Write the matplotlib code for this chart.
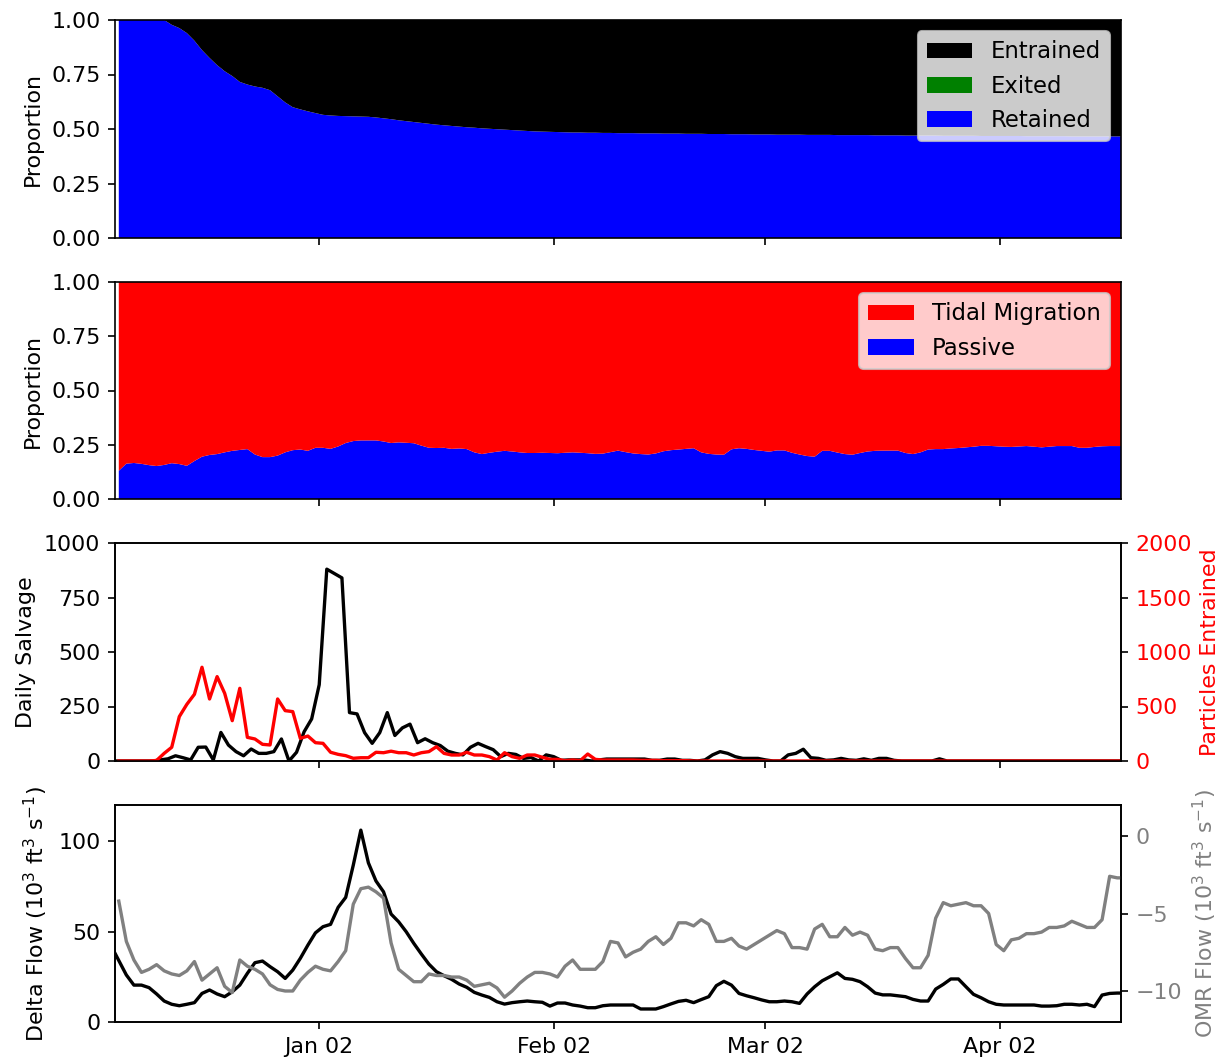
import numpy as np
import pandas as pd
import matplotlib
matplotlib.use("Agg")
import matplotlib.pyplot as plt
import matplotlib.dates as mdates

plt.rcParams['font.family'] = ['DejaVu Sans']
plt.rcParams['font.size'] = 10.6

# ---------------------------------------------------------------- data
# Daily particle fate proportions (values at midday, from 2016-12-06)
retained = [
    1.0, 1.0, 1.0, 1.0, 1.0, 1.0, 1.0, 0.978, 0.963, 0.94,
    0.905, 0.862, 0.826, 0.793, 0.765, 0.743, 0.716, 0.704, 0.695, 0.689,
    0.678, 0.650, 0.622, 0.600, 0.590, 0.581, 0.573, 0.565, 0.562, 0.560,
    0.559, 0.558, 0.557, 0.556, 0.553, 0.549, 0.545, 0.540, 0.536, 0.532,
    0.528, 0.524, 0.520, 0.517, 0.514, 0.511, 0.508, 0.506, 0.503, 0.501,
    0.499, 0.497, 0.495, 0.493, 0.491, 0.489, 0.488, 0.487, 0.486, 0.485,
    0.484, 0.484, 0.483, 0.483, 0.482, 0.482, 0.481, 0.481, 0.481, 0.480,
    0.480, 0.480, 0.479, 0.479, 0.479, 0.478, 0.478, 0.478, 0.477, 0.477,
    0.477, 0.476, 0.476, 0.476, 0.475, 0.475, 0.475, 0.474, 0.474, 0.474,
    0.474, 0.473, 0.473, 0.473, 0.473, 0.472, 0.472, 0.472, 0.472, 0.472,
    0.471, 0.471, 0.471, 0.471, 0.470, 0.470, 0.470, 0.470, 0.470, 0.469,
    0.469, 0.469, 0.469, 0.469, 0.468, 0.468, 0.468, 0.468, 0.468, 0.468,
    0.467, 0.467, 0.467, 0.467, 0.467, 0.467, 0.466, 0.466, 0.466, 0.466,
    0.466, 0.466, 0.466, 0.466,
]
exited = [0.0] * len(retained)

# Proportion of particles behaving passively (rest use tidal migration)
passive = [
    0.130, 0.163, 0.166, 0.162, 0.156, 0.152, 0.157, 0.165, 0.161, 0.153,
    0.175, 0.195, 0.203, 0.207, 0.215, 0.222, 0.226, 0.230, 0.205, 0.193,
    0.193, 0.200, 0.215, 0.225, 0.228, 0.222, 0.236, 0.236, 0.231, 0.242,
    0.258, 0.267, 0.270, 0.270, 0.270, 0.265, 0.258, 0.261, 0.259, 0.257,
    0.246, 0.236, 0.235, 0.236, 0.231, 0.233, 0.230, 0.215, 0.207, 0.213,
    0.218, 0.222, 0.219, 0.215, 0.212, 0.212, 0.213, 0.212, 0.211, 0.213,
    0.215, 0.213, 0.211, 0.208, 0.209, 0.216, 0.223, 0.216, 0.210, 0.207,
    0.205, 0.210, 0.220, 0.225, 0.228, 0.231, 0.234, 0.215, 0.208, 0.205,
    0.204, 0.229, 0.234, 0.231, 0.226, 0.222, 0.218, 0.224, 0.224, 0.213,
    0.205, 0.198, 0.195, 0.222, 0.222, 0.214, 0.207, 0.204, 0.212, 0.219,
    0.222, 0.223, 0.223, 0.223, 0.212, 0.207, 0.215, 0.228, 0.230, 0.230,
    0.233, 0.235, 0.238, 0.241, 0.245, 0.245, 0.243, 0.241, 0.240, 0.242,
    0.244, 0.241, 0.238, 0.241, 0.244, 0.244, 0.244, 0.236, 0.236, 0.240,
    0.243, 0.244, 0.244, 0.244,
]

# Daily fish salvage (midnight stamps, from 2016-12-06)
salvage = [
    0, 0, 0, 0, 0, 0, 5, 10, 24, 15,
    5, 63, 64, 5, 131, 73, 43, 24, 55, 35,
    35, 43, 101, 0, 40, 134, 193, 350, 880, 860,
    840, 222, 216, 130, 81, 130, 222, 117, 152, 169,
    84, 102, 84, 71, 45, 35, 28, 63, 81, 66,
    52, 20, 35, 30, 12, 16, 0, 28, 20, 3,
    5, 5, 5, 0, 5, 9, 9, 9, 9, 9,
    9, 3, 3, 9, 9, 3, 3, 0, 5, 28,
    43, 35, 20, 12, 12, 12, 5, 0, 0, 28,
    35, 54, 15, 12, 3, 5, 12, 5, 3, 10,
    3, 12, 12, 3, 0, 0, 0, 0, 0, 10,
    0, 0, 0, 0, 0, 0, 0, 0, 0, 0,
    0, 0, 0, 0, 0, 0, 0, 0, 0, 0,
    0, 0, 0, 0,
]

# Modelled particles entrained per day (midday stamps)
particles = [
    0, 0, 0, 0, 0, 5, 70, 126, 407, 520,
    612, 860, 569, 774, 621, 370, 667, 217, 202, 153,
    147, 569, 462, 453, 208, 229, 168, 162, 80, 61,
    49, 25, 30, 30, 80, 76, 90, 76, 76, 55,
    76, 86, 131, 70, 55, 55, 80, 55, 55, 40,
    9, 76, 40, 24, 55, 55, 34, 15, 15, 3,
    9, 3, 64, 15, 9, 9, 9, 9, 9, 6,
    6, 6, 3, 3, 3, 3, 0, 0, 0, 0,
    0, 0, 0, 0, 0, 0, 0, 0, 0, 0,
    0, 0, 0, 0, 0, 0, 0, 0, 0, 0,
    0, 0, 0, 0, 0, 0, 0, 0, 0, 0,
    0, 0, 0, 0, 0, 0, 0, 0, 0, 0,
    0, 0, 0, 0, 0, 0, 0, 0, 0, 0,
    0, 0, 0, 0,
]

# Delta outflow, 10^3 cfs (midday stamps, from 2016-12-05)
delta_flow = [
    42.0, 34.0, 26.0, 20.4, 20.4, 19.0, 15.5, 11.6, 9.8, 9.0,
    9.8, 10.7, 15.8, 17.7, 15.5, 14.0, 16.7, 20.4, 26.9, 32.8,
    33.7, 30.6, 27.8, 24.1, 28.7, 35.2, 42.5, 49.3, 52.7, 54.0,
    63.4, 68.9, 86.7, 106.1, 88.0, 78.0, 72.0, 59.7, 55.4, 49.9,
    43.5, 37.6, 32.0, 27.8, 25.6, 23.6, 21.0, 19.2, 16.4, 14.9,
    13.6, 11.2, 9.9, 10.7, 11.2, 11.6, 11.2, 10.9, 8.8, 10.5,
    10.5, 9.4, 8.8, 7.9, 7.9, 9.0, 9.4, 9.4, 9.4, 9.4,
    7.2, 7.2, 7.2, 8.5, 10.0, 11.4, 12.0, 10.7, 12.4, 14.0,
    20.1, 22.5, 20.4, 15.8, 14.5, 13.4, 12.2, 11.2, 11.2, 11.6,
    11.2, 10.3, 15.5, 19.5, 22.8, 25.0, 27.2, 24.1, 23.6, 22.3,
    19.5, 16.0, 15.0, 15.0, 14.5, 14.0, 12.5, 11.6, 11.6, 18.2,
    20.8, 23.8, 23.8, 19.5, 15.3, 13.4, 11.2, 9.8, 9.4, 9.4,
    9.4, 9.4, 9.4, 8.8, 8.8, 9.0, 9.8, 9.8, 9.4, 9.8,
    8.5, 14.9, 15.8, 16.0, 16.0,
]

# Old and Middle River flow, 10^3 cfs (midday stamps, from 2016-12-06)
omr_flow = [
    -4.2, -6.8, -8.0, -8.8, -8.6, -8.3, -8.7, -8.9, -9.0, -8.7,
    -8.1, -9.3, -8.9, -8.5, -9.7, -10.1, -8.0, -8.4, -8.6, -8.9,
    -9.6, -9.9, -10.0, -10.0, -9.3, -8.8, -8.4, -8.6, -8.7, -8.1,
    -7.4, -4.4, -3.4, -3.3, -3.6, -4.0, -6.9, -8.6, -9.0, -9.4,
    -9.4, -8.9, -9.0, -9.0, -9.1, -9.1, -9.3, -9.7, -9.6, -9.5,
    -9.8, -10.4, -10.0, -9.5, -9.1, -8.8, -8.8, -8.9, -9.1, -8.4,
    -8.0, -8.6, -8.6, -8.6, -8.1, -6.8, -6.9, -7.8, -7.5, -7.3,
    -6.8, -6.5, -7.0, -6.6, -5.6, -5.6, -5.8, -5.4, -5.7, -6.8,
    -6.8, -6.6, -7.1, -7.3, -7.0, -6.7, -6.4, -6.1, -6.3, -7.2,
    -7.2, -7.3, -6.0, -5.7, -6.5, -6.5, -5.9, -6.4, -6.2, -6.4,
    -7.3, -7.4, -7.2, -7.2, -7.9, -8.5, -8.5, -7.7, -5.3, -4.3,
    -4.5, -4.4, -4.3, -4.5, -4.5, -5.0, -7.0, -7.4, -6.7, -6.6,
    -6.3, -6.3, -6.2, -5.9, -5.9, -5.8, -5.5, -5.7, -5.9, -5.9,
    -5.4, -2.6, -2.7, -2.7,
]

fate_labels = ["Retained", "Exited", "Entrained"]
fate_colors = ["blue", "green", "black"]
behaviour_labels = ["Passive", "Tidal Migration"]
behaviour_colors = ["blue", "red"]

# ---------------------------------------------------------------- dates
noon_dates = pd.date_range("2016-12-06 12:00", periods=len(retained), freq="D")
salvage_dates = pd.date_range("2016-12-06", periods=len(salvage), freq="D")
particle_dates = pd.date_range("2016-12-06 12:00", periods=len(particles), freq="D")
delta_dates = pd.date_range("2016-12-05 12:00", periods=len(delta_flow), freq="D")
omr_dates = pd.date_range("2016-12-06 12:00", periods=len(omr_flow), freq="D")

entrained = 1.0 - np.asarray(retained) - np.asarray(exited)
tidal = 1.0 - np.asarray(passive)

# ---------------------------------------------------------------- figure
W_PX, H_PX, DPI = 1231, 1062, 150
fig = plt.figure(figsize=(W_PX / DPI, H_PX / DPI), dpi=DPI)


def panel(top, bottom, left=115, right=1121, **kw):
    return fig.add_axes([left / W_PX, 1 - bottom / H_PX,
                         (right - left) / W_PX, (bottom - top) / H_PX], **kw)


ax1 = panel(20, 238)
ax2 = panel(282, 499, sharex=ax1)
ax3 = panel(543, 761, sharex=ax1)
ax4 = panel(805, 1022, sharex=ax1)

LEGEND_SIZE = 10.9

# Panel 1: particle fate
ax1.stackplot(noon_dates, retained, exited, entrained,
              colors=fate_colors, labels=fate_labels)
ax1.set_ylim(0, 1)
ax1.set_yticks([0, 0.25, 0.5, 0.75, 1.0])
ax1.set_ylabel("Proportion")
h, l = ax1.get_legend_handles_labels()
ax1.legend(h[::-1], l[::-1], loc="upper right", fontsize=LEGEND_SIZE)

# Panel 2: behaviour
ax2.stackplot(noon_dates, passive, tidal,
              colors=behaviour_colors, labels=behaviour_labels)
ax2.set_ylim(0, 1)
ax2.set_yticks([0, 0.25, 0.5, 0.75, 1.0])
ax2.set_ylabel("Proportion")
h, l = ax2.get_legend_handles_labels()
ax2.legend(h[::-1], l[::-1], loc="upper right", fontsize=LEGEND_SIZE)

# Panel 3: salvage and entrained particles
ax3.plot(salvage_dates, salvage, color="black", lw=1.6)
ax3.set_ylim(0, 1000)
ax3.set_yticks([0, 250, 500, 750, 1000])
ax3.set_ylabel("Daily Salvage")
ax3b = ax3.twinx()
ax3b.plot(particle_dates, particles, color="red", lw=1.6)
ax3b.set_ylim(0, 2000)
ax3b.set_yticks([0, 500, 1000, 1500, 2000])
ax3b.tick_params(axis="y", labelcolor="red")
ax3b.set_ylabel("Particles Entrained", color="red")

# Panel 4: flows
ax4.plot(delta_dates, delta_flow, color="black", lw=1.6)
ax4.set_ylim(0, 120)
ax4.set_yticks([0, 50, 100])
ax4.set_ylabel("Delta Flow (10$^3$ ft$^3$ s$^{-1}$)")
ax4b = ax4.twinx()
ax4b.plot(omr_dates, omr_flow, color="grey", lw=1.6)
ax4b.set_ylim(-12, 2)
ax4b.set_yticks([-10, -5, 0])
ax4b.tick_params(axis="y", labelcolor="grey")
ax4b.set_ylabel("OMR Flow (10$^3$ ft$^3$ s$^{-1}$)", color="grey")

# Shared date axis
ax1.set_xlim(pd.Timestamp("2016-12-06"), pd.Timestamp("2017-04-18"))
ax4.xaxis.set_major_locator(mdates.MonthLocator(bymonthday=2))
ax4.xaxis.set_major_formatter(mdates.DateFormatter("%b %d"))
for ax in (ax1, ax2, ax3):
    ax.tick_params(axis="x", labelbottom=False)

fig.savefig("out.png", dpi=DPI)
